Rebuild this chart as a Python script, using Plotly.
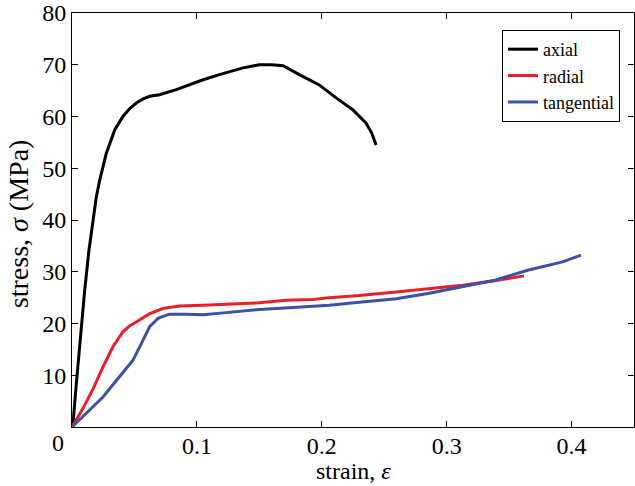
import plotly.graph_objects as go

axial_strain = [0, 0.0008, 0.0035, 0.0065, 0.0102, 0.0135, 0.0166, 0.0195, 0.0222, 0.0275, 0.0342,
                0.0408, 0.0460, 0.0515, 0.0570, 0.0622, 0.070, 0.0835, 0.105, 0.118, 0.137,
                0.150, 0.160, 0.169, 0.182, 0.198, 0.2115, 0.2248, 0.2355, 0.240, 0.2435]
axial_stress = [0, 0.65, 8.5, 17.0, 26.5, 34.0, 40.0, 44.5, 47.7, 52.9, 57.4,
                60.0, 61.5, 62.6, 63.4, 63.9, 64.2, 65.2, 67.1, 68.1, 69.4,
                70.0, 70.0, 69.8, 68.1, 66.1, 63.6, 61.3, 58.7, 56.8, 54.5]

radial_strain = [0, 0.0008, 0.0088, 0.0168, 0.0248, 0.0328, 0.0408, 0.0460, 0.0515, 0.0622, 0.0728,
                 0.086, 0.105, 0.1235, 0.150, 0.1715, 0.193, 0.206, 0.230, 0.2595, 0.285,
                 0.3128, 0.3395, 0.362]
radial_stress = [0, 0.3, 3.6, 7.3, 11.6, 15.5, 18.4, 19.5, 20.3, 21.9, 22.9,
                 23.4, 23.55, 23.7, 24.0, 24.5, 24.65, 25.0, 25.4, 26.1, 26.7,
                 27.4, 28.3, 29.2]

tangential_strain = [0, 0.0115, 0.0248, 0.038, 0.0488, 0.0555, 0.0622, 0.0688, 0.078, 0.0915,
                     0.105, 0.1235, 0.150, 0.177, 0.206, 0.230, 0.2595, 0.285, 0.3128,
                     0.3395, 0.3648, 0.3928, 0.4075]
tangential_stress = [0, 2.6, 5.8, 9.7, 12.9, 16.1, 19.4, 21.0, 21.8, 21.8,
                     21.7, 22.1, 22.7, 23.1, 23.55, 24.1, 24.8, 25.8, 27.1,
                     28.4, 30.3, 31.9, 33.2]

x_ticks = [0, 0.1, 0.2, 0.3, 0.4]
x_ticklabels = ["", "0.1", "0.2", "0.3", "0.4"]
y_ticks = [10, 20, 30, 40, 50, 60, 70, 80]

FONT = "Liberation Serif"

fig = go.Figure()
fig.add_trace(go.Scatter(x=axial_strain, y=axial_stress, mode="lines", name="axial",
                         line=dict(color="black", width=3)))
fig.add_trace(go.Scatter(x=radial_strain, y=radial_stress, mode="lines", name="radial",
                         line=dict(color="#e8202a", width=3)))
fig.add_trace(go.Scatter(x=tangential_strain, y=tangential_stress, mode="lines", name="tangential",
                         line=dict(color="#3a52a5", width=3)))

axis_common = dict(showgrid=False, zeroline=False, showline=True, linecolor="black",
                   linewidth=1, mirror="ticks", ticks="inside", ticklen=6, tickcolor="black",
                   automargin=False,
                   tickfont=dict(family=FONT, size=24, color="black"))

fig.update_xaxes(range=[0, 0.45], tickvals=x_ticks, ticktext=x_ticklabels,
                 ticklabelstandoff=-3, **axis_common)
fig.update_yaxes(range=[0, 80], tickvals=y_ticks, **axis_common)

fig.add_annotation(x=0, y=0, xref="x", yref="y", text="0", showarrow=False,
                   xanchor="center", yanchor="top", xshift=-14, yshift=-1,
                   font=dict(family=FONT, size=24, color="black"))
fig.add_annotation(x=0.5, y=-0.106, xref="paper", yref="paper", text="strain, <i>ε</i>",
                   showarrow=False, xanchor="center", yanchor="middle",
                   font=dict(family=FONT, size=24, color="black"))
fig.add_annotation(x=-0.096, y=0.49, xref="paper", yref="paper", text="stress, <i>σ</i> (MPa)",
                   showarrow=False, xanchor="center", yanchor="middle", textangle=-90,
                   font=dict(family=FONT, size=28, color="black"))

fig.update_layout(
    width=635, height=486,
    margin=dict(l=72, r=1, t=13, b=59),
    paper_bgcolor="white", plot_bgcolor="white",
    font=dict(family=FONT, color="black"),
    legend=dict(x=0.975, y=0.959, xanchor="right", yanchor="top",
                bordercolor="black", borderwidth=1, bgcolor="white",
                font=dict(family=FONT, size=18, color="black")),
)

fig.write_html("out.html", config={"displayModeBar": False},
               post_script="document.body.style.margin='0px';")
